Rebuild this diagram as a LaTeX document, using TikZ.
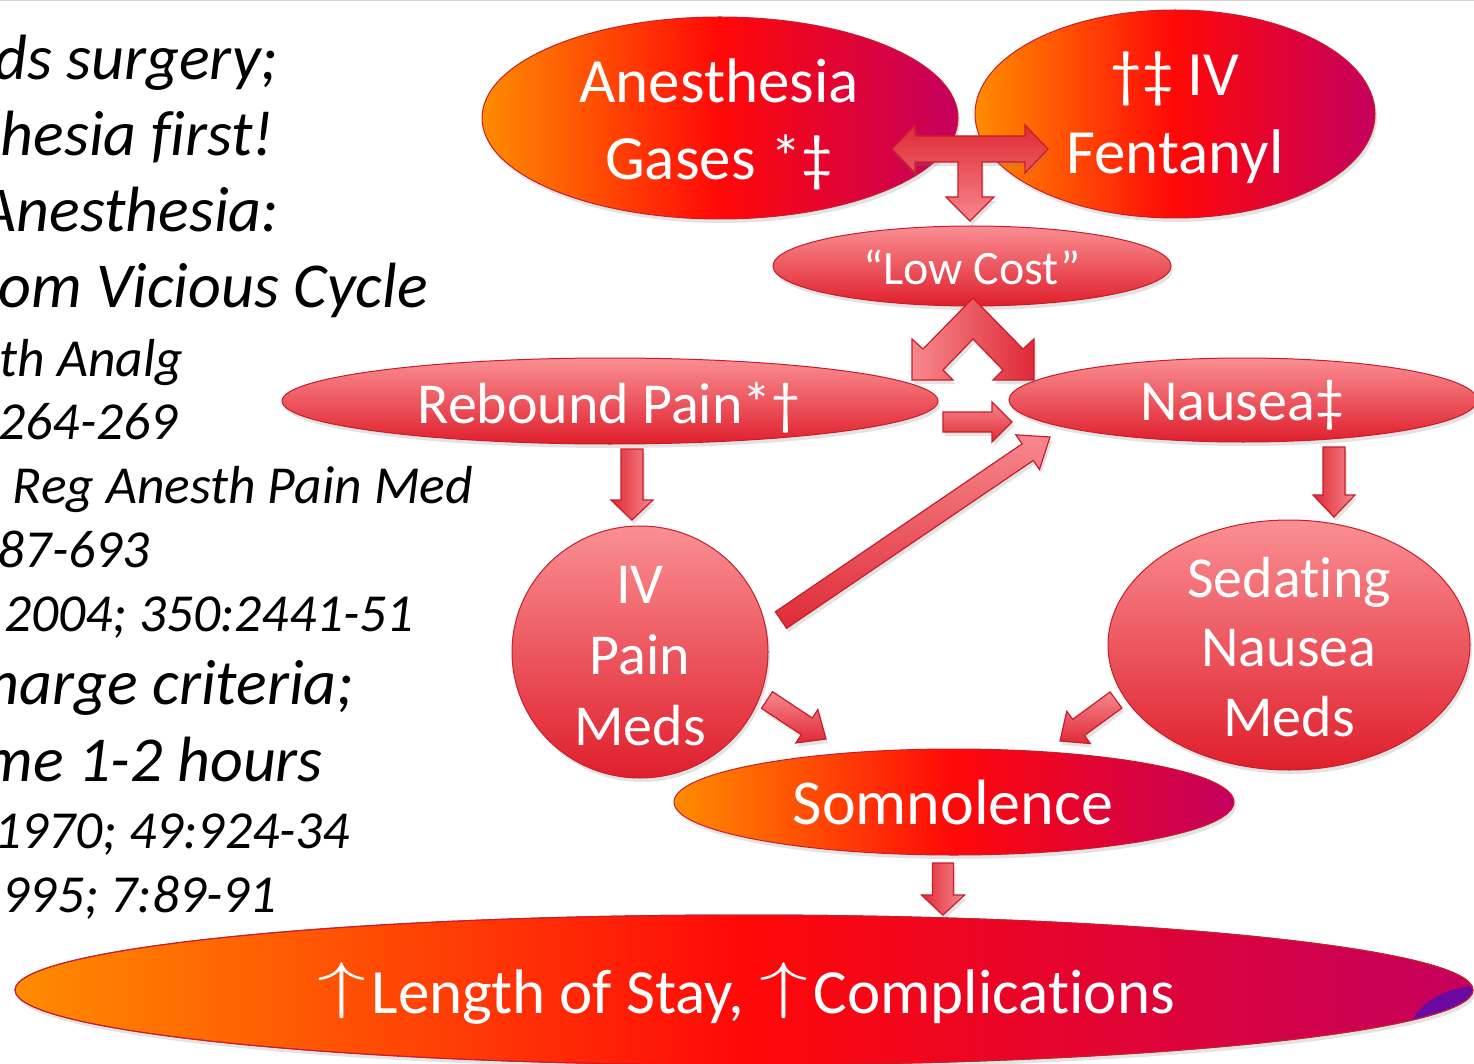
\RequirePackage{fix-cm}
\documentclass[tikz,border=0pt]{standalone}
\usepackage{fontspec}
\setmainfont{Carlito}[Ligatures=NoCommon]
\usetikzlibrary{shapes.geometric,calc,shadows}
\definecolor{cOr}{HTML}{FF8C00}
\definecolor{cRe}{HTML}{FF0808}
\definecolor{cCr}{HTML}{C4005E}
\definecolor{cPk}{HTML}{FA8F93}
\definecolor{cRd}{HTML}{DF1F2C}
\definecolor{cBd}{HTML}{C81E2C}
\definecolor{cAl}{HTML}{F7888D}
\definecolor{cAd}{HTML}{DE2A36}
\definecolor{cPu}{HTML}{6A0AA2}
\newcommand{\blockarr}[6][]{%
  \coordinate (hb) at ($(#3)!#6!(#2)$);
  \path[barrow,#1] ($(#2)!#4!90:(#3)$) -- ($(hb)!#4!90:(#3)$) -- ($(hb)!#5!90:(#3)$) -- (#3)
    -- ($(hb)!#5!-90:(#3)$) -- ($(hb)!#4!-90:(#3)$) -- ($(#2)!#4!-90:(#3)$) -- cycle;}
\newcommand{\uparr}{\kern1pt\raisebox{7pt}{\scalebox{1.55}[1.0]{$\uparrow$}}\kern5pt}
\begin{document}
\begin{tikzpicture}[x=1pt,y=-1pt,
  shd/.style={drop shadow={opacity=0.22,shadow xshift=2pt,shadow yshift=-4pt}},
  pinkell/.style={ellipse,draw=cBd,line width=1pt,top color=cPk,bottom color=cRd,inner sep=0pt,shd},
  orell/.style={ellipse,draw=cBd,line width=1pt,left color=cOr,right color=cCr,middle color=cRe,inner sep=0pt,shd},
  barrow/.style={draw=cBd,line width=1.2pt,line join=miter,shd},
  wt/.style={text=white,inner sep=0pt,anchor=base,font=\fontsize{63}{70}\selectfont},
  wm/.style={text=white,inner sep=0pt,anchor=base,font=\fontsize{58}{64}\selectfont},
  ltb/.style={anchor=base east,inner sep=0pt,font=\itshape\fontsize{64}{70}\selectfont},
  lts/.style={anchor=base east,inner sep=0pt,font=\itshape\fontsize{53.5}{60}\selectfont}]
\useasboundingbox (0,0) rectangle (1474,1064);
\fill[white] (0,0) rectangle (1474,1064);
\draw[black!18,line width=1pt] (0,0.5) -- (1474,0.5);

% left text
\node[ltb] (l1) at (278,80) {ds surgery;};
\node[ltb] (l2) at (274,156) {hesia first!};
\node[ltb] (l3) at (279,232) {Anesthesia:};
\node[ltb] (l4) at (428,308) {om Vicious Cycle};
\node[lts] (l5) at (183,376) {th Analg};
\node[lts] (l6) at (178,439) {264-269};
\node[lts] (l7) at (473,503) {Reg Anesth Pain Med};
\node[lts] (l8) at (150,567) {87-693};
\node[lts] (l9) at (414,631) {2004; 350:2441-51};
\node[ltb] (l10) at (354,704) {harge criteria;};
\node[ltb] (l11) at (323,781) {me 1-2 hours};
\node[lts] (l12) at (350,848) {1970; 49:924-34};
\node[lts] (l13) at (277,912) {995; 7:89-91};

% ellipses
\node[orell,minimum width=1458pt,minimum height=150pt] (len) at (744,990) {};
\begin{scope}
  \clip (744,990) ellipse (729 and 75);
  \fill[cPu] (1480,1038) ellipse (72 and 52);
\end{scope}
\draw[cBd,line width=1pt] (744,990) ellipse (729 and 75);
\node[orell,minimum width=560pt,minimum height=106pt] (som) at (954,802) {};
\node[orell,minimum width=476pt,minimum height=202pt] (anes) at (720,118) {};
\node[orell,minimum width=400pt,minimum height=208pt] (fent) at (1175,114) {};
\node[pinkell,minimum width=398pt,minimum height=80pt] (low) at (972,266) {};
\node[pinkell,minimum width=656pt,minimum height=86pt] (reb) at (610,401) {};
\node[pinkell,minimum width=468pt,minimum height=84pt] (nau) at (1243,400) {};
\node[pinkell,minimum width=256pt,minimum height=252pt] (ivp) at (640,652) {};
\node[pinkell,minimum width=362pt,minimum height=250pt] (sed) at (1289,645) {};

% texts
\node[wt] (tA1) at (719,103) {Anesthesia};
\node[wt] (tA2) at (719,180) {Gases *‡};
\node[wt] (tF1) at (1175,96) {†‡ IV};
\node[wt] (tF2) at (1175,174) {Fentanyl};
\node[text=white,inner sep=0pt,anchor=base,font=\fontsize{48}{52}\selectfont] (tL) at (972,285) {“Low Cost”};
\node[wm] (tR) at (609,423) {Rebound Pain*†};
\node[wm] (tN) at (1242,420) {Nausea‡};
\node[wm] (tI1) at (640,603) {IV};
\node[wm] (tI2) at (640,674) {Pain};
\node[wm] (tI3) at (640,745) {Meds};
\node[wm] (tS1) at (1289,597) {Sedating};
\node[wm] (tS2) at (1289,666) {Nausea};
\node[wm] (tS3) at (1289,736) {Meds};
\node[wt,font=\fontsize{64}{70}\selectfont] (tSo) at (953,824) {Somnolence};
\node[wt] (tLe) at (746,1013) {\uparr Length of Stay, \uparr Complications};

% T-shaped arrow at top
\path[barrow,top color=cAd,bottom color=cAl] (892,149) -- (915,125) -- (915,136) -- (1025,136) -- (1025,125)
  -- (1048,149) -- (1025,173) -- (1025,162) -- (982,162) -- (982,197) -- (994,197) -- (970,221)
  -- (946,197) -- (958,197) -- (958,162) -- (915,162) -- (915,173) -- cycle;
% forked arrow below Low Cost
\path[barrow,left color=cAl,right color=cAd] (973,298) -- (923,349) -- (912,339) -- (912,380) -- (953,380)
  -- (943,370) -- (973,339) -- (1003,370) -- (993,380) -- (1034,380) -- (1034,339) -- (1023,349) -- cycle;

% connectors
\coordinate (d1) at (943,422); \coordinate (d2) at (1012,422);
\coordinate (e1) at (781,620); \coordinate (e2) at (1050,437);
\coordinate (f1) at (632,449); \coordinate (f2) at (632,520);
\coordinate (g1) at (1334,447); \coordinate (g2) at (1334,517);
\coordinate (h1) at (767,700); \coordinate (h2) at (826,739);
\coordinate (i1) at (1116,700); \coordinate (i2) at (1060,741);
\coordinate (j1) at (943,863); \coordinate (j2) at (943,915);
\blockarr[top color=cAl,bottom color=cAd]{d1}{d2}{10pt}{20pt}{20pt}
\blockarr[top color=cAl,bottom color=cAd]{e1}{e2}{10pt}{21pt}{27pt}
\blockarr[left color=cAd,right color=cAl]{f1}{f2}{11pt}{21pt}{20pt}
\blockarr[left color=cAd,right color=cAl]{g1}{g2}{11pt}{21pt}{22pt}
\blockarr[top color=cAl,bottom color=cAd]{h1}{h2}{10pt}{20pt}{23pt}
\blockarr[top color=cAl,bottom color=cAd]{i1}{i2}{10pt}{20pt}{23pt}
\blockarr[left color=cAd,right color=cAl]{j1}{j2}{10.5pt}{21.5pt}{20pt}
\end{tikzpicture}
\end{document}
